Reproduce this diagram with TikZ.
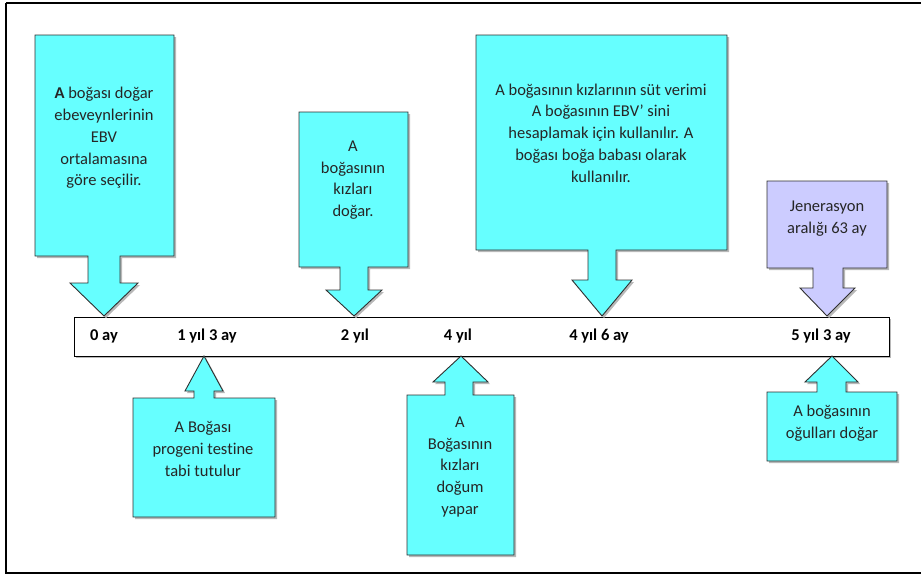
\documentclass[tikz,border=0pt]{standalone}
\usepackage{fontspec}
\setmainfont[Ligatures=NoCommon]{Carlito}
\definecolor{calloutcyan}{HTML}{66FFFF}
\definecolor{calloutlav}{HTML}{CCCCFF}
\definecolor{calloutedge}{HTML}{303030}
\begin{document}
\begin{tikzpicture}[x=1pt,y=-1pt,
  callout/.style={fill=calloutcyan,draw=calloutedge,line width=0.9pt,line join=miter},
  calloutshadow/.style={fill=black!28,draw=none,shift={(2,2)}},
  ctext/.style={align=center,inner sep=0pt,font=\fontsize{16.5}{21.7}\selectfont,text=black!85},
  tick/.style={inner sep=0pt,font=\fontsize{16.5}{20}\selectfont\bfseries},
  bar/.style={draw=black,fill=white,line width=0.9pt},
  frame/.style={draw=black,line width=2.6pt}]
\useasboundingbox (0,0) rectangle (921,576);
% outer frame
\draw[frame] (6,3) -- (940,3) (6,3) -- (6,573) -- (940,573);
% timeline bar
\fill[black!28] (76,319) rectangle (891,358);
\node[bar,minimum width=815pt,minimum height=39pt,inner sep=0pt] (bar) at (481.5,336.5) {};
% timeline labels
\node[tick] (t0) at (104,336) {0 ay};
\node[tick] (t1) at (207,336) {1 yıl 3 ay};
\node[tick] (t2) at (355,336) {2 yıl};
\node[tick] (t3) at (458,336) {4 yıl};
\node[tick] (t4) at (599,336) {4 yıl 6 ay};
\node[tick] (t5) at (821,336) {5 yıl 3 ay};
% callouts above the bar, pointing down
\foreach \xa/\xb/\ya/\yb/\sa/\sb/\sy/\ha/\hb/\tip/\col in {
    35/174/35/256/88/120/283/70/138/104/calloutcyan,
    299/408/112/267/340/368/290/326/382/354/calloutcyan,
    476/727/35/250/588/616/280/572/632/602/calloutcyan,
    767/887/181/268/813/843/288/800/855/827/calloutlav}{
  \fill[calloutshadow] (\xa,\ya) -- (\xb,\ya) -- (\xb,\yb) -- (\sb,\yb) -- (\sb,\sy) -- (\hb,\sy) -- (\tip,316)
    -- (\ha,\sy) -- (\sa,\sy) -- (\sa,\yb) -- (\xa,\yb) -- cycle;
  \filldraw[callout,fill=\col] (\xa,\ya) -- (\xb,\ya) -- (\xb,\yb) -- (\sb,\yb) -- (\sb,\sy) -- (\hb,\sy) -- (\tip,316)
    -- (\ha,\sy) -- (\sa,\sy) -- (\sa,\yb) -- (\xa,\yb) -- cycle;
}
% callouts below the bar, pointing up
\foreach \xa/\xb/\ya/\yb/\sa/\sb/\sy/\ha/\hb/\tip in {
    133/275/398/517/194/214/391/185/223/204,
    407/514/395/555/445/473/382/433/488/461,
    767/897/392/461/817/846/382/805/858/832}{
  \fill[calloutshadow] (\xa,\yb) -- (\xb,\yb) -- (\xb,\ya) -- (\sb,\ya) -- (\sb,\sy) -- (\hb,\sy) -- (\tip,356)
    -- (\ha,\sy) -- (\sa,\sy) -- (\sa,\ya) -- (\xa,\ya) -- cycle;
  \filldraw[callout] (\xa,\yb) -- (\xb,\yb) -- (\xb,\ya) -- (\sb,\ya) -- (\sb,\sy) -- (\hb,\sy) -- (\tip,356)
    -- (\ha,\sy) -- (\sa,\sy) -- (\sa,\ya) -- (\xa,\ya) -- cycle;
}
% callout texts
\node[ctext] (c1) at (104,138) {\textbf{A} boğası doğar\\ebeveynlerinin\\EBV\\ortalamasına\\göre seçilir.};
\node[ctext] (c2) at (353,180) {A\\boğasının\\kızları\\doğar.};
\node[ctext] (c3) at (601,133) {A boğasının kızlarının süt verimi\\A boğasının EBV’ sini\\hesaplamak için kullanılır. A\\boğası boğa babası olarak\\kullanılır.};
\node[ctext] (c4) at (827,218.5) {Jenerasyon\\aralığı 63 ay};
\node[ctext] (c5) at (203,449) {A Boğası\\progeni testine\\tabi tutulur};
\node[ctext] (c6) at (460,467) {A\\Boğasının\\kızları\\doğum\\yapar};
\node[ctext] (c7) at (832,423) {A boğasının\\oğulları doğar};
\end{tikzpicture}
\end{document}
